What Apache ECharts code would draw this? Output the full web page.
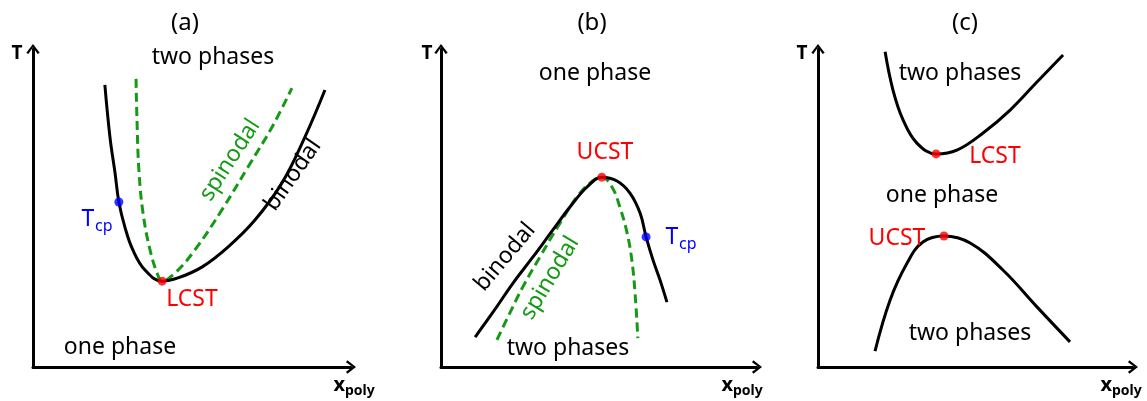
<!DOCTYPE html>
<html><head><meta charset="utf-8">
<script src="https://cdn.jsdelivr.net/npm/echarts@6/dist/echarts.min.js"></script>
<style>html,body{margin:0;padding:0;background:#fff}#c{width:1147px;height:401px}</style>
</head><body><div id="c"></div>
<script>
// Panel (a): LCST diagram (schematic units 0..10)
const binodalA = [[2.26,8.87],[2.42,7.23],[2.58,6.10],[2.70,5.19],[2.89,4.40],[3.14,3.68],[3.52,3.05],[4.06,2.70],[4.56,2.80],[5.31,3.14],[6.13,3.77],[6.98,4.62],[7.83,5.79],[8.55,7.23],[9.18,8.71]];
const spinodalA = [[3.24,9.06],[3.27,7.77],[3.33,6.19],[3.46,4.84],[3.68,3.68],[3.90,2.96],[4.06,2.70],[4.47,2.96],[5.09,3.68],[5.94,4.94],[6.76,6.29],[7.52,7.55],[8.14,8.77]];
const lcstA = [4.06,2.70];
const tcpA = [2.70,5.19];
// Panel (b): UCST diagram
const binodalB = [[1.08,0.94],[1.65,1.73],[2.28,2.64],[2.91,3.46],[3.54,4.31],[4.08,5.03],[4.62,5.66],[5.09,5.97],[5.57,5.85],[5.98,5.47],[6.30,4.84],[6.49,4.09],[6.71,3.36],[6.93,2.74],[7.15,2.04]];
const spinodalB = [[1.77,0.85],[2.18,1.70],[2.59,2.52],[3.13,3.46],[3.77,4.53],[4.40,5.47],[4.94,5.94],[5.09,5.97],[5.41,5.66],[5.66,5.03],[5.89,4.21],[6.04,3.36],[6.14,2.33],[6.23,0.91]];
const ucstB = [5.09,5.97];
const tcpB = [6.49,4.09];
// Panel (c): both LCST and UCST
const upperC = [[2.13,9.91],[2.38,8.71],[2.70,7.77],[3.14,7.04],[3.75,6.70],[4.41,6.82],[5.24,7.36],[6.10,8.08],[6.95,8.96],[7.78,9.81]];
const lowerC = [[1.81,0.50],[2.29,2.11],[2.83,3.27],[3.33,3.93],[4.00,4.12],[4.83,3.90],[5.87,3.05],[6.95,1.89],[8.00,0.79]];
const lcstC = [3.75,6.70];
const ucstC = [4.00,4.12];

const FONT = 'Noto Sans';
const GREEN = '#169a16';
const arrowPath = 'path://M10,0 L20,13 L17,15 L10,5 L3,15 L0,13 Z';

const grids = [
  {left:33, top:49, width:318, height:318},
  {left:441, top:49, width:316, height:318},
  {left:818, top:49, width:315, height:318}
];
function axisX(i){return {type:'value',gridIndex:i,min:0,max:10,
  axisLine:{show:true,lineStyle:{color:'#000',width:3},symbol:['none',arrowPath],symbolSize:[15,10]},
  axisTick:{show:false},axisLabel:{show:false},splitLine:{show:false}};}
function axisY(i){return {type:'value',gridIndex:i,min:0,max:10,
  axisLine:{show:true,lineStyle:{color:'#000',width:3},symbol:['none',arrowPath],symbolSize:[15,10]},
  axisTick:{show:false},axisLabel:{show:false},splitLine:{show:false}};}

function solid(data,i){return {type:'line',xAxisIndex:i,yAxisIndex:i,data:data,smooth:0.4,showSymbol:false,
  lineStyle:{color:'#000',width:3},silent:true,z:3};}
function dashed(data,i){return {type:'line',xAxisIndex:i,yAxisIndex:i,data:data,smooth:0.4,showSymbol:false,
  lineStyle:{color:GREEN,width:3,type:[9,5]},silent:true,z:2};}
function dot(pt,i,color){return {type:'scatter',xAxisIndex:i,yAxisIndex:i,data:[pt],symbolSize:9,
  itemStyle:{color:color},silent:true,z:5};}

function txt(x,y,text,opts){
  opts = opts||{};
  return {type:'text',x:x,y:y,rotation:opts.rot?opts.rot*Math.PI/180:0,silent:true,z:10,
    style:{text:text,fill:opts.color||'#000',font:(opts.weight||'normal')+' '+(opts.size||23)+'px "'+FONT+'"',
      align:opts.align||'center',verticalAlign:'middle'}};
}
function axisTitles(tx,ty,xx,xy){
  return [
    txt(tx,ty,'T',{weight:'bold',size:19}),
    txt(xx,xy,'x',{weight:'bold',size:20,align:'right'}),
    txt(xx,xy+6,'poly',{weight:'bold',size:14,align:'left'})
  ];
}

const graphics = [
  // panel a
  txt(185,23,'(a)',{size:24}),
  txt(213,57,'two phases'),
  txt(230,160,'spinodal',{color:GREEN,rot:57}),
  txt(293,175,'binodal',{rot:55}),
  txt(88,219,'T',{color:'#0000ff',align:'center'}),
  txt(95,226,'cp',{color:'#0000ff',size:16,align:'left'}),
  txt(192,299,'LCST',{color:'#ff0000'}),
  txt(120,347,'one phase'),
  ...axisTitles(17,54,345,385),
  // panel b
  txt(592,23,'(b)',{size:24}),
  txt(595,73,'one phase'),
  txt(605,152,'UCST',{color:'#ff0000'}),
  txt(505,257,'binodal',{rot:50}),
  txt(550,278,'spinodal',{color:GREEN,rot:59}),
  txt(672,237,'T',{color:'#0000ff'}),
  txt(679,244,'cp',{color:'#0000ff',size:16,align:'left'}),
  txt(568,348,'two phases'),
  ...axisTitles(427,54,733,385),
  // panel c
  txt(965,23,'(c)',{size:24}),
  txt(960,73,'two phases'),
  txt(995,156,'LCST',{color:'#ff0000'}),
  txt(942,195,'one phase'),
  txt(897,238,'UCST',{color:'#ff0000'}),
  txt(970,333,'two phases'),
  ...axisTitles(802,54,1112,385)
];

const chart = echarts.init(document.getElementById('c'),null,{renderer:'canvas'});
chart.setOption({
  animation:false,
  backgroundColor:'#fff',
  grid:grids,
  xAxis:[axisX(0),axisX(1),axisX(2)],
  yAxis:[axisY(0),axisY(1),axisY(2)],
  series:[
    solid(binodalA,0), dashed(spinodalA,0), dot(lcstA,0,'#ff0000'), dot(tcpA,0,'#0000ff'),
    solid(binodalB,1), dashed(spinodalB,1), dot(ucstB,1,'#ff0000'), dot(tcpB,1,'#0000ff'),
    solid(upperC,2), solid(lowerC,2), dot(lcstC,2,'#ff0000'), dot(ucstC,2,'#ff0000')
  ],
  graphic:graphics
});
</script></body></html>
